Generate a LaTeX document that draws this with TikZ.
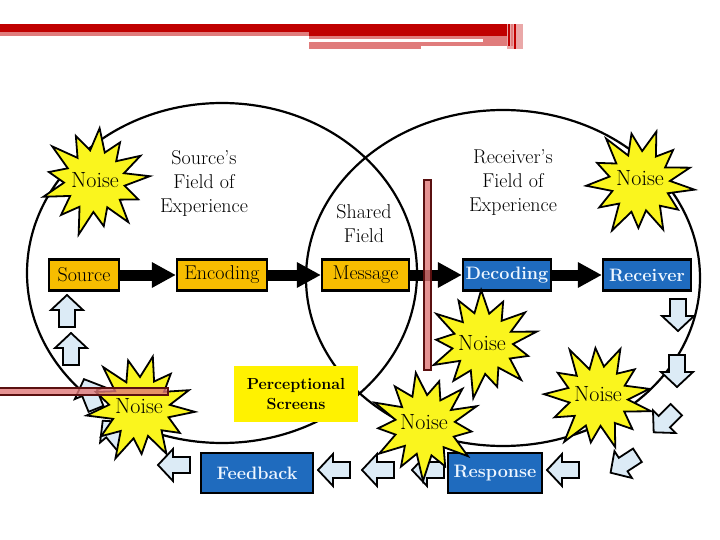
\documentclass[tikz,border=0pt]{standalone}
\usetikzlibrary{arrows.meta}
\definecolor{hdrred}{HTML}{C00000}
\definecolor{hdrpink}{HTML}{E07C7C}
\definecolor{hdrlight}{HTML}{EAA8A8}
\definecolor{boxgold}{HTML}{F7BD00}
\definecolor{boxblue}{HTML}{1F6BBE}
\definecolor{txtwhite}{HTML}{EEF6FF}
\definecolor{noiseyel}{HTML}{FAF51E}
\definecolor{screenyel}{HTML}{FFF200}
\definecolor{barpink}{HTML}{E07878}
\definecolor{barrim}{HTML}{5A1010}
\definecolor{arrowfill}{HTML}{DCEBF6}
\newcommand\noiseburst[2]{%
  \draw[burst, shift={#1}, rotate=#2] (0:55) -- (14:30) -- (28:47) -- (42:31) -- (56:53) -- (70:29) -- (84:46) -- (98:31) -- (112:56) -- (126:30) -- (140:48) -- (154:29) -- (168:54) -- (182:31) -- (196:47) -- (210:30) -- (224:55) -- (238:29) -- (252:49) -- (266:31) -- (280:53) -- (294:30) -- (308:46) -- (322:29) -- (336:52) -- (350:30) -- cycle;}
\begin{document}
\begin{tikzpicture}[x=1pt,y=-1pt,
  field/.style={draw=black,line width=2.2pt},
  goldbox/.style={draw=black,line width=2.2pt,fill=boxgold,inner sep=0pt,minimum height=31pt,font=\fontsize{20}{24}\selectfont},
  bluebox/.style={draw=black,line width=2.2pt,fill=boxblue,inner sep=0pt,minimum height=31pt,text=txtwhite,font=\fontsize{18}{22}\selectfont\bfseries},
  flow/.style={line width=11pt,-{Triangle[length=24pt,width=24pt]}},
  burst/.style={draw=black,line width=1.8pt,fill=noiseyel,line join=miter},
  noisetext/.style={inner sep=0pt,font=\fontsize{22}{26}\selectfont},
  fieldlabel/.style={inner sep=0pt,align=center,font=\fontsize{20}{24}\selectfont},
  barrow/.pic={\draw[draw=black,line width=1.8pt,fill=arrowfill,line join=miter]
     (-16,-8) -- (1,-8) -- (1,-16) -- (16,0) -- (1,16) -- (1,8) -- (-16,8) -- cycle;},
  bar/.style={draw=barrim,line width=1.3pt,fill=barpink,fill opacity=0.8}
]
\useasboundingbox (0,0) rectangle (720,540);
% header band
\fill[hdrred] (0,24) rectangle (507,32);
\fill[hdrpink] (0,32) rectangle (309,36);
\fill[hdrred] (309,32) rectangle (507,36);
\fill[hdrpink] (309,36) rectangle (507,39);
\fill[hdrpink] (483,39) rectangle (507,42);
\fill[hdrpink] (309,42) rectangle (507,46);
\fill[hdrpink] (309,46) rectangle (421,49);
\fill[hdrlight] (507,24) rectangle (523,49);
\fill[hdrred] (508,24) rectangle (509.5,46);
\fill[hdrpink] (511,24) rectangle (513,46);
\fill[hdrred] (514,24) rectangle (515.5,49);

% fields of experience
\draw[field] (222,273) ellipse [x radius=195, y radius=170];
\draw[field] (503,278) ellipse [x radius=197, y radius=168];

% boxes
\node[goldbox,minimum width=70pt] (src) at (84,275) {Source};
\node[goldbox,minimum width=90pt] (enc) at (222,275) {Encoding};
\node[goldbox,minimum width=87pt] (msg) at (365.5,275) {Message};
\node[bluebox,minimum width=88pt] (dec) at (507,275) {Decoding};
\node[bluebox,minimum width=88pt] (rcv) at (647,275) {Receiver};
\node[bluebox,minimum width=112pt,minimum height=40pt] (fbk) at (257,473) {Feedback};
\node[bluebox,minimum width=94pt,minimum height=40pt] (rsp) at (495,473) {Response};

% main flow
\draw[flow] (src) -- (enc);
\draw[flow] (enc) -- (msg);
\draw[flow] (msg) -- (dec);
\draw[flow] (dec) -- (rcv);

% feedback loop block arrows
\pic[rotate=-90] at (678,315) {barrow};
\pic[rotate=-90] at (677,371) {barrow};
\pic[rotate=225] at (665,421) {barrow};
\pic[rotate=213] at (624,464) {barrow};
\pic[rotate=180] at (563,470) {barrow};
\pic[rotate=180] at (428,470) {barrow};
\pic[rotate=180] at (378,470) {barrow};
\pic[rotate=180] at (334,470) {barrow};
\pic[rotate=180] at (174,465) {barrow};
\pic[rotate=130] at (113,433) {barrow};
\pic[rotate=112] at (90,394) {barrow};
\pic[rotate=90] at (71,349) {barrow};
\pic[rotate=90] at (67,311) {barrow};

% noise bursts
\noiseburst{(95,181)}{5}
\node[noisetext] (n1) at (95,180) {Noise};
\noiseburst{(640,182)}{-8}
\node[noisetext] (n2) at (640,178) {Noise};
\noiseburst{(483,343)}{12}
\node[noisetext] (n3) at (482,343) {Noise};
\noiseburst{(140,408)}{-4}
\node[noisetext] (n4) at (139,406) {Noise};
\noiseburst{(425,425)}{20}
\node[noisetext] (n5) at (424,422) {Noise};
\noiseburst{(598,397)}{-15}
\node[noisetext] (n6) at (598,394) {Noise};

% labels
\node[fieldlabel] (sfe) at (204,183) {Source’s\\Field of\\Experience};
\node[fieldlabel] (rfe) at (513,183) {Receiver’s\\Field of\\Experience};
\node[fieldlabel] (shf) at (364,224) {Shared\\Field};

% perceptional screens
\node[fill=screenyel,minimum width=124pt,minimum height=56pt,inner sep=0pt,align=center,
      font=\fontsize{16}{20}\selectfont\bfseries] (ps) at (296,394) {Perceptional\\Screens};

% barriers
\draw[bar] (424,180) rectangle (431,370);
\draw[bar] (-2,388) rectangle (168,395);
\end{tikzpicture}
\end{document}
